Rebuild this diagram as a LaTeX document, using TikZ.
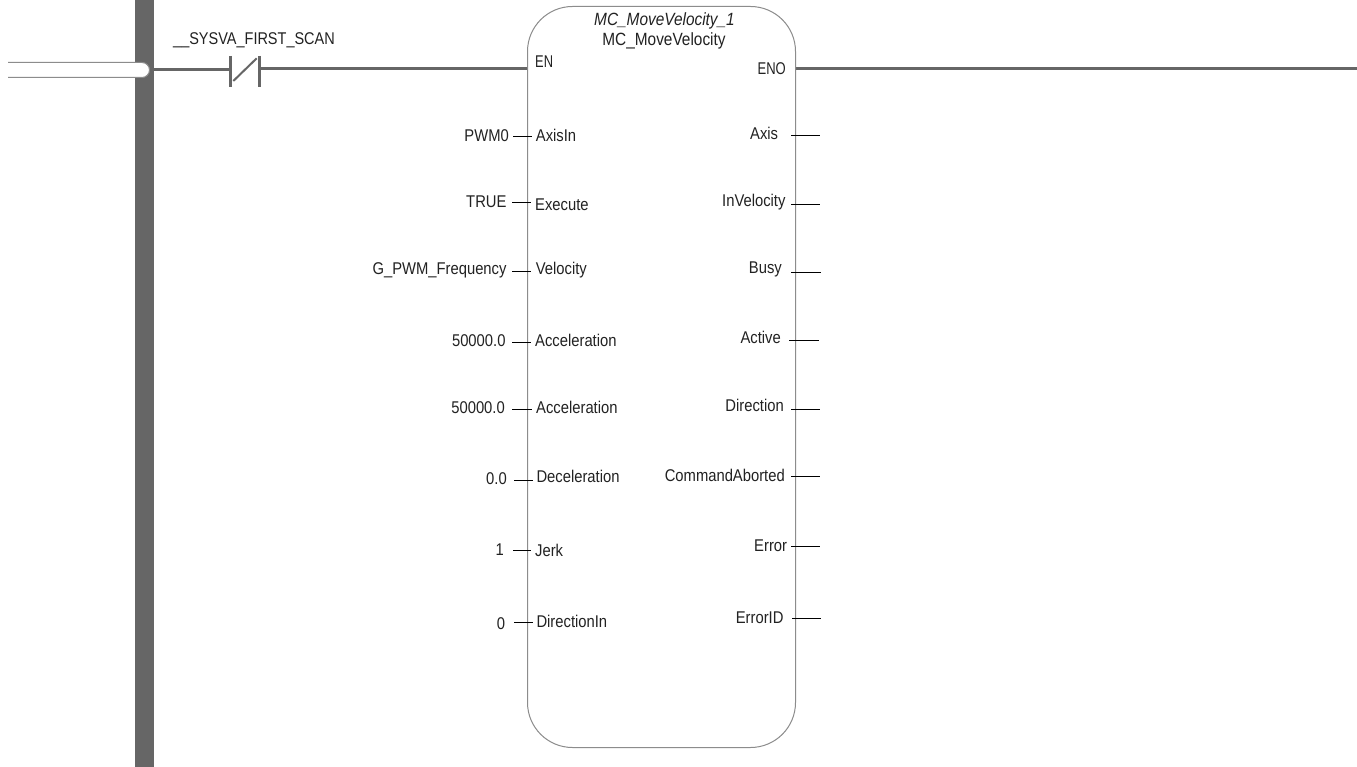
\documentclass[tikz,border=0pt]{standalone}
\usepackage{fontspec}
\setmainfont[FakeStretch=0.87]{Liberation Sans}
\definecolor{railgray}{HTML}{666666}
\definecolor{boxgray}{HTML}{8C8C8C}
\definecolor{txt}{HTML}{222222}
\tikzset{
 px/.style={x=1pt,y=-1pt},
 lbl/.style={inner sep=0pt,text=txt,font=\fontsize{17}{19}\selectfont,anchor=base west},
 rlbl/.style={inner sep=0pt,text=txt,font=\fontsize{17}{19}\selectfont,anchor=base east},
 stub/.style={draw=black,line width=1pt},
 wire/.style={draw=railgray,line width=3pt},
 blockbox/.style={draw=boxgray,line width=1pt,fill=white,rounded corners=45pt},
 tabshape/.style={draw=boxgray,line width=1pt,rounded corners=7.5pt},
}
\begin{document}
\begin{tikzpicture}[px]
\useasboundingbox (0,0) rectangle (1357,767);
\fill[white] (0,0) rectangle (1357,767);
\fill[railgray] (135,0) rectangle (154,767);
\coordinate (railin) at (154,70);
\fill[white,rounded corners=7.5pt] (8,62.5) -- (149.5,62.5) -- (149.5,77.5) -- (8,77.5) [sharp corners] -- cycle;
\draw[tabshape] (8,62.5) -- (149.5,62.5) -- (149.5,77.5) -- (8,77.5);
\coordinate (cl) at (230.5,70);
\coordinate (cr) at (259.5,69);
\coordinate (blockin) at (527,69);
\coordinate (blockout) at (795,69);
\coordinate (wireend) at (1357,69);
\draw[wire] (railin) -- (cl);
\draw[wire] (cr) -- (blockin);
\draw[wire] (blockout) -- (wireend);
\draw[railgray,line width=2.5pt] (230.5,56) -- (230.5,87);
\draw[railgray,line width=2.5pt] (259.5,56) -- (259.5,87);
\draw[railgray,line width=2pt] (233.3,81) -- (256.7,58.3);
\node[lbl] (sysva) at (173,45) {\scalebox{0.98}[1]{\_\_SYSVA\_FIRST\_SCAN}};
\node[blockbox,minimum width=268pt,minimum height=741pt,anchor=north west] (block) at (527,6) {};
\node[inner sep=0pt,text=txt,font=\fontsize{17.7}{19}\selectfont\itshape,anchor=base] (inst) at (664.5,26) {MC\_MoveVelocity\_1};
\node[inner sep=0pt,text=txt,font=\fontsize{17.7}{19}\selectfont,anchor=base] (type) at (664,46) {MC\_MoveVelocity};
\node[lbl] (en) at (535,68) {\scalebox{0.87}[1]{EN}};
\node[rlbl] (eno) at (786,75) {\scalebox{0.88}[1]{ENO}};
\foreach \n/\v/\p/\y/\xa/\xb/\xp/\xv/\bv/\bp in {
 a/PWM0/AxisIn/136.7/513.3/531.7/535.7/509/141.5/141.5,
 b/TRUE/Execute/202.7/512/531/535/506.7/207.8/210.5,
 c/G\_PWM\_Frequency/Velocity/271.3/512/531/535.7/506.7/274.8/274.5,
 d/50000.0/Acceleration/342.7/512/531/535/505.7/346.8/346.8,
 e/50000.0/Acceleration/409.3/512/531.7/536/505/413.5/413.5,
 f/0.0/Deceleration/480.3/514.3/532.7/536.3/507/484.5/482.2,
 g/1/Jerk/550.3/513/531/535/504/555.5/556.5,
 h/0/DirectionIn/622.7/514.3/532.7/536.3/505.3/629.5/627.5}{
  \node[rlbl] (v\n) at (\xv,\bv) {\v};
  \node[lbl] (p\n) at (\xp,\bp) {\p};
  \coordinate (s\n) at (\xa,\y);
  \coordinate (t\n) at (\xb,\y);
  \draw[stub] (s\n) -- (t\n);
}
\foreach \n/\p/\y/\b/\xe/\xa/\xb in {
 i/Axis/135.3/139.2/778.3/791/820,
 j/InVelocity/204.3/206.2/785.7/791/820,
 k/Busy/272.3/273.8/782/791/820.7,
 l/Active/340.3/343.5/781/789/819,
 m/Direction/409.3/411.8/784/791/820,
 n/CommandAborted/476.3/481.5/785/791/820,
 o/Error/546.3/551.2/787.3/791/820,
 p/ErrorID/618.3/623.8/783.7/792/820.7}{
  \node[rlbl] (q\n) at (\xe,\b) {\p};
  \coordinate (u\n) at (\xa,\y);
  \coordinate (w\n) at (\xb,\y);
  \draw[stub] (u\n) -- (w\n);
}
\end{tikzpicture}
\end{document}
